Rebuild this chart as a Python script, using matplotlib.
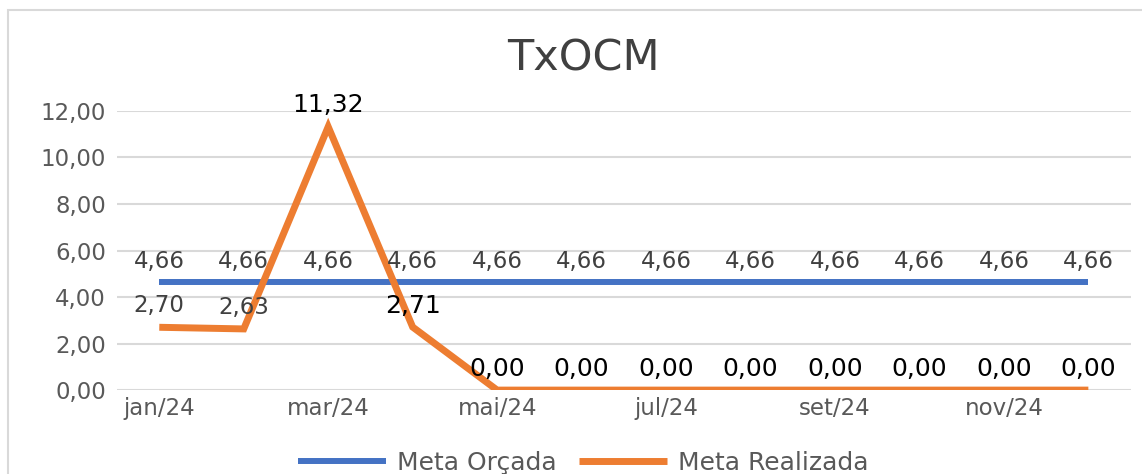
import matplotlib.pyplot as plt
from matplotlib.patches import Rectangle

meses = ['jan/24', 'fev/24', 'mar/24', 'abr/24', 'mai/24', 'jun/24',
         'jul/24', 'ago/24', 'set/24', 'out/24', 'nov/24', 'dez/24']
meta_orcada = [4.66] * 12
meta_realizada = [2.70, 2.63, 11.32, 2.71, 0.00, 0.00, 0.00, 0.00, 0.00, 0.00, 0.00, 0.00]
yticks = [0, 2, 4, 6, 8, 10, 12]

azul = '#4472C4'
laranja = '#ED7D31'
cinza = '#595959'

plt.rcParams['font.family'] = ['DejaVu Sans']

fig = plt.figure(figsize=(11.42, 4.74), dpi=100)
ax = fig.add_axes([0.1025, 0.177, 0.8875, 0.589])

x = list(range(len(meses)))
ax.plot(x, meta_orcada, color=azul, lw=4.3, solid_capstyle='butt', label='Meta Orçada', zorder=3)
ax.plot(x, meta_realizada, color=laranja, lw=5, solid_capstyle='butt',
        solid_joinstyle='miter', label='Meta Realizada', zorder=4)

def fmt(v):
    return ('%.2f' % v).replace('.', ',')

# rótulos de dados
for i, v in enumerate(meta_orcada):
    ax.annotate(fmt(v), (i, v), xytext=(0, 14.5), textcoords='offset points',
                ha='center', va='center', fontsize=16.5, color='#404040', zorder=5)
for i, v in enumerate(meta_realizada):
    cor = '#404040' if i < 2 else 'black'
    tam = 16.5 if i < 2 else 18
    ax.annotate(fmt(v), (i, v), xytext=(0, 15.5), textcoords='offset points',
                ha='center', va='center', fontsize=tam, color=cor, zorder=5)

ax.set_xlim(-0.5, 11.5)
ax.set_ylim(0, 12)
ax.set_yticks(yticks)
ax.set_yticklabels([fmt(t) for t in yticks])
ax.set_xticks(x[::2])
ax.set_xticklabels(meses[::2])
ax.tick_params(length=0, labelsize=16.5, labelcolor=cinza)
ax.tick_params(axis='y', pad=8)
ax.tick_params(axis='x', pad=5)
ax.grid(axis='y', color='#D9D9D9', lw=1.5)
ax.set_axisbelow(True)
for s in ax.spines.values():
    s.set_visible(False)

fig.text(0.511, 0.877, 'TxOCM', ha='center', va='center', fontsize=31, color='#404040')

leg = fig.legend(loc='center', bbox_to_anchor=(0.511, 0.023), ncol=2, frameon=False,
                 fontsize=18, handlelength=3.5, columnspacing=0.9, handletextpad=0.45)
for t in leg.get_texts():
    t.set_color(cinza)

fig.patches.append(Rectangle((8 / 1142, -0.1), 1.2, (474 - 10) / 474 + 0.1,
                             transform=fig.transFigure, fill=False,
                             edgecolor='#D9D9D9', lw=1.5))

fig.savefig('out.png', dpi=100)
